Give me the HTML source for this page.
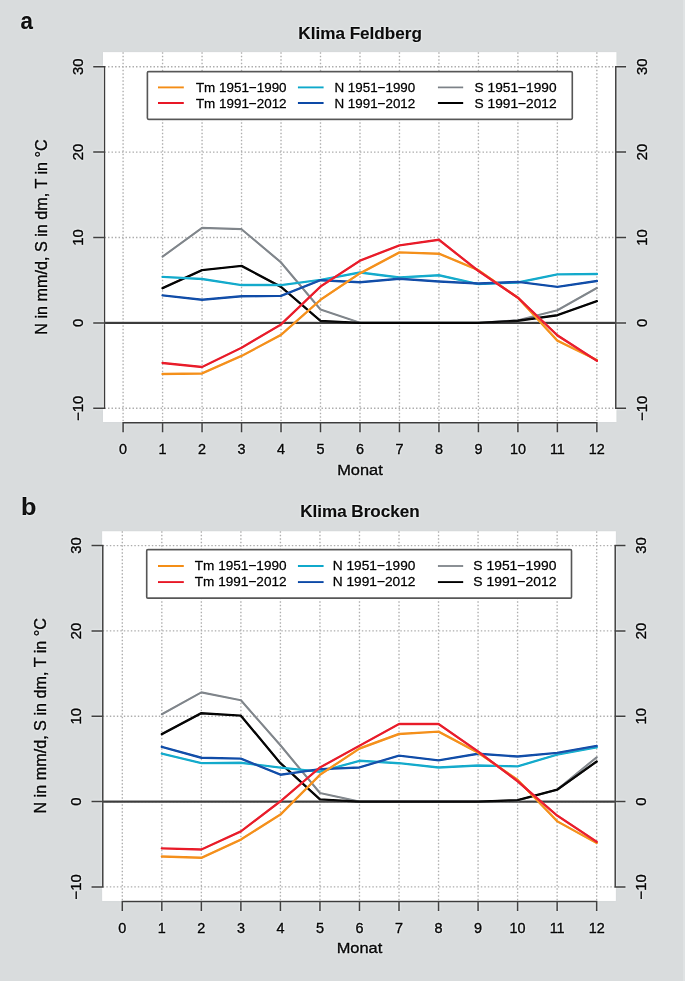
<!DOCTYPE html>
<html><head><meta charset="utf-8"><style>
html,body{margin:0;padding:0;background:#d9dcdd;}
svg{display:block;font-family:"Liberation Sans",sans-serif;}
text{stroke:#1a1a1a;stroke-width:0.35px;} .lg{stroke-width:0.3px;} .nb{stroke-width:0.1px;}
</style></head><body>
<svg width="685" height="981" viewBox="0 0 685 981">
<defs><filter id="bl" filterUnits="userSpaceOnUse" x="-20" y="-20" width="725" height="1021" color-interpolation-filters="sRGB"><feGaussianBlur in="SourceGraphic" stdDeviation="0.45" result="b1"/><feGaussianBlur in="b1" stdDeviation="1.3" result="b2"/><feComposite in="b1" in2="b2" operator="arithmetic" k1="0" k2="1.22" k3="-0.22" k4="0"/></filter></defs>
<g filter="url(#bl)">
<rect x="-20" y="-20" width="725" height="1021" fill="#d9dcdd"/>
<rect x="683" y="-20" width="30" height="1021" fill="#e0e3e4"/>
<text x="20.6" y="28.6" font-size="24" font-weight="bold" fill="#1a1a1a" class="nb" textLength="12.4" lengthAdjust="spacingAndGlyphs">a</text>
<text x="360.1" y="39" text-anchor="middle" font-size="15.6" font-weight="bold" class="nb" fill="#1a1a1a" textLength="123.5" lengthAdjust="spacingAndGlyphs">Klima Feldberg</text>
<rect x="103" y="52.2" width="513.4" height="369.8" fill="#fff"/>
<path d="M123.1 52.2V422M162.58 52.2V422M202.06 52.2V422M241.54 52.2V422M281.02 52.2V422M320.5 52.2V422M359.98 52.2V422M399.46 52.2V422M438.94 52.2V422M478.42 52.2V422M517.9 52.2V422M557.38 52.2V422M596.86 52.2V422M104.5 408.3H615.8M104.5 322.9H615.8M104.5 237.5H615.8M104.5 152.1H615.8M104.5 66.7H615.8" stroke="#b9b9b9" stroke-width="1.4" stroke-dasharray="1.5 2" fill="none"/>
<path d="M104.5 322.9H615.8" stroke="#4a4a4a" stroke-width="2.4" fill="none"/>
<polyline points="162.58,256.54 202.06,227.85 241.54,229.22 281.02,262.44 320.5,309.58 359.98,322.73 399.46,322.9 438.94,322.9 478.42,322.9 517.9,320.34 557.38,310.26 596.86,288.06" stroke="#898e93" stroke-width="2.2" fill="none" stroke-linejoin="round" stroke-linecap="round"/>
<polyline points="162.58,288.14 202.06,270.12 241.54,265.85 281.02,286.86 320.5,320.94 359.98,322.9 399.46,322.9 438.94,322.9 478.42,322.9 517.9,320.76 557.38,315.21 596.86,301.21" stroke="#151515" stroke-width="2.4" fill="none" stroke-linejoin="round" stroke-linecap="round"/>
<polyline points="162.58,276.87 202.06,279 241.54,285.07 281.02,285.07 320.5,279.86 359.98,272.51 399.46,277.55 438.94,275.25 478.42,284.13 517.9,282.51 557.38,274.39 596.86,274.05" stroke="#24b0cf" stroke-width="2.4" fill="none" stroke-linejoin="round" stroke-linecap="round"/>
<polyline points="162.58,295.4 202.06,299.76 241.54,296.26 281.02,295.91 320.5,280.2 359.98,282.25 399.46,278.75 438.94,281.57 478.42,283.53 517.9,281.91 557.38,286.86 596.86,281.05" stroke="#2159ae" stroke-width="2.4" fill="none" stroke-linejoin="round" stroke-linecap="round"/>
<polyline points="162.58,373.97 202.06,373.46 241.54,355.95 281.02,334.86 320.5,299.84 359.98,273.37 399.46,252.36 438.94,253.73 478.42,270.12 517.9,297.71 557.38,340.58 596.86,359.96" stroke="#f5972a" stroke-width="2.4" fill="none" stroke-linejoin="round" stroke-linecap="round"/>
<polyline points="162.58,362.95 202.06,366.97 241.54,347.75 281.02,324.44 320.5,286.61 359.98,260.73 399.46,245.36 438.94,239.72 478.42,271.06 517.9,297.71 557.38,335.37 596.86,360.82" stroke="#ea2b38" stroke-width="2.4" fill="none" stroke-linejoin="round" stroke-linecap="round"/>
<rect x="147.4" y="71.6" width="424.9" height="47.7" fill="#fff" stroke="#666" stroke-width="1.7" rx="1.2"/>
<path d="M158 87.4H183.8" stroke="#f5972a" stroke-width="1.95" fill="none"/>
<text x="195.9" y="91.6" font-size="13.2" class="lg" fill="#1a1a1a" textLength="90.7" lengthAdjust="spacingAndGlyphs">Tm 1951−1990</text>
<path d="M158 103H183.8" stroke="#ea2b38" stroke-width="1.95" fill="none"/>
<text x="195.9" y="107.5" font-size="13.2" class="lg" fill="#1a1a1a" textLength="90.7" lengthAdjust="spacingAndGlyphs">Tm 1991−2012</text>
<path d="M297.9 87.4H323.6" stroke="#24b0cf" stroke-width="1.95" fill="none"/>
<text x="334.4" y="91.6" font-size="13.2" class="lg" fill="#1a1a1a" textLength="80.9" lengthAdjust="spacingAndGlyphs">N 1951−1990</text>
<path d="M297.9 103H323.6" stroke="#2159ae" stroke-width="1.95" fill="none"/>
<text x="334.4" y="107.5" font-size="13.2" class="lg" fill="#1a1a1a" textLength="80.9" lengthAdjust="spacingAndGlyphs">N 1991−2012</text>
<path d="M437.9 87.4H463.2" stroke="#898e93" stroke-width="1.8" fill="none"/>
<text x="474.6" y="91.6" font-size="13.2" class="lg" fill="#1a1a1a" textLength="82" lengthAdjust="spacingAndGlyphs">S 1951−1990</text>
<path d="M437.9 103H463.2" stroke="#151515" stroke-width="1.95" fill="none"/>
<text x="474.6" y="107.5" font-size="13.2" class="lg" fill="#1a1a1a" textLength="82" lengthAdjust="spacingAndGlyphs">S 1991−2012</text>
<path d="M104.5 66.7V408.3M94 408.3H104.5M94 322.9H104.5M94 237.5H104.5M94 152.1H104.5M94 66.7H104.5M615.8 66.7V408.3M615.8 408.3H625.3M615.8 322.9H625.3M615.8 237.5H625.3M615.8 152.1H625.3M615.8 66.7H625.3M123.1 422.7H596.86M123.1 422.7V431.5M162.58 422.7V431.5M202.06 422.7V431.5M241.54 422.7V431.5M281.02 422.7V431.5M320.5 422.7V431.5M359.98 422.7V431.5M399.46 422.7V431.5M438.94 422.7V431.5M478.42 422.7V431.5M517.9 422.7V431.5M557.38 422.7V431.5M596.86 422.7V431.5" stroke="#505050" stroke-width="1.5" fill="none" stroke-linecap="square"/>
<text transform="translate(83 408.3) rotate(-90)" text-anchor="middle" font-size="14.8" fill="#1a1a1a">&#8722;10</text>
<text transform="translate(647 408.3) rotate(-90)" text-anchor="middle" font-size="14.8" fill="#1a1a1a">&#8722;10</text>
<text transform="translate(83 322.9) rotate(-90)" text-anchor="middle" font-size="14.8" fill="#1a1a1a">0</text>
<text transform="translate(647 322.9) rotate(-90)" text-anchor="middle" font-size="14.8" fill="#1a1a1a">0</text>
<text transform="translate(83 237.5) rotate(-90)" text-anchor="middle" font-size="14.8" fill="#1a1a1a">10</text>
<text transform="translate(647 237.5) rotate(-90)" text-anchor="middle" font-size="14.8" fill="#1a1a1a">10</text>
<text transform="translate(83 152.1) rotate(-90)" text-anchor="middle" font-size="14.8" fill="#1a1a1a">20</text>
<text transform="translate(647 152.1) rotate(-90)" text-anchor="middle" font-size="14.8" fill="#1a1a1a">20</text>
<text transform="translate(83 66.7) rotate(-90)" text-anchor="middle" font-size="14.8" fill="#1a1a1a">30</text>
<text transform="translate(647 66.7) rotate(-90)" text-anchor="middle" font-size="14.8" fill="#1a1a1a">30</text>
<text x="123.1" y="454.2" text-anchor="middle" font-size="14.4" fill="#1a1a1a">0</text>
<text x="162.58" y="454.2" text-anchor="middle" font-size="14.4" fill="#1a1a1a">1</text>
<text x="202.06" y="454.2" text-anchor="middle" font-size="14.4" fill="#1a1a1a">2</text>
<text x="241.54" y="454.2" text-anchor="middle" font-size="14.4" fill="#1a1a1a">3</text>
<text x="281.02" y="454.2" text-anchor="middle" font-size="14.4" fill="#1a1a1a">4</text>
<text x="320.5" y="454.2" text-anchor="middle" font-size="14.4" fill="#1a1a1a">5</text>
<text x="359.98" y="454.2" text-anchor="middle" font-size="14.4" fill="#1a1a1a">6</text>
<text x="399.46" y="454.2" text-anchor="middle" font-size="14.4" fill="#1a1a1a">7</text>
<text x="438.94" y="454.2" text-anchor="middle" font-size="14.4" fill="#1a1a1a">8</text>
<text x="478.42" y="454.2" text-anchor="middle" font-size="14.4" fill="#1a1a1a">9</text>
<text x="517.9" y="454.2" text-anchor="middle" font-size="14.4" fill="#1a1a1a">10</text>
<text x="557.38" y="454.2" text-anchor="middle" font-size="14.4" fill="#1a1a1a">11</text>
<text x="596.86" y="454.2" text-anchor="middle" font-size="14.4" fill="#1a1a1a">12</text>
<text x="359.98" y="474.6" text-anchor="middle" font-size="14.9" fill="#1a1a1a" textLength="45.5" lengthAdjust="spacingAndGlyphs">Monat</text>
<text transform="translate(47.4 237) rotate(-90)" text-anchor="middle" font-size="16" fill="#1a1a1a" textLength="195.5" lengthAdjust="spacingAndGlyphs">N in mm/d, S in dm, T in °C</text>
<text x="20.9" y="515.3" font-size="24" font-weight="bold" fill="#1a1a1a" class="nb" textLength="15.4" lengthAdjust="spacingAndGlyphs">b</text>
<text x="359.9" y="517" text-anchor="middle" font-size="15.6" font-weight="bold" class="nb" fill="#1a1a1a" textLength="119.3" lengthAdjust="spacingAndGlyphs">Klima Brocken</text>
<rect x="102.2" y="531.3" width="513.6" height="369.6" fill="#fff"/>
<path d="M122.3 531.3V900.9M161.83 531.3V900.9M201.36 531.3V900.9M240.89 531.3V900.9M280.42 531.3V900.9M319.95 531.3V900.9M359.48 531.3V900.9M399.01 531.3V900.9M438.54 531.3V900.9M478.07 531.3V900.9M517.6 531.3V900.9M557.13 531.3V900.9M596.66 531.3V900.9M102.8 886.9H615.2M102.8 801.58H615.2M102.8 716.25H615.2M102.8 630.92H615.2M102.8 545.6H615.2" stroke="#b9b9b9" stroke-width="1.4" stroke-dasharray="1.5 2" fill="none"/>
<path d="M102.8 801.58H615.2" stroke="#4a4a4a" stroke-width="2.4" fill="none"/>
<polyline points="161.83,714.2 201.36,692.36 240.89,700.29 280.42,745.26 319.95,793.04 359.48,801.58 399.01,801.58 438.54,801.58 478.07,801.58 517.6,800.55 557.13,789.71 596.66,757.29" stroke="#898e93" stroke-width="2.2" fill="none" stroke-linejoin="round" stroke-linecap="round"/>
<polyline points="161.83,734.17 201.36,713.18 240.89,715.65 280.42,763.18 319.95,799.36 359.48,801.58 399.01,801.58 438.54,801.58 478.07,801.58 517.6,800.21 557.13,789.71 596.66,761.56" stroke="#151515" stroke-width="2.4" fill="none" stroke-linejoin="round" stroke-linecap="round"/>
<polyline points="161.83,753.62 201.36,763.09 240.89,762.75 280.42,767.62 319.95,771.71 359.48,760.79 399.01,763.18 438.54,767.45 478.07,765.48 517.6,766.42 557.13,754.65 596.66,747.31" stroke="#24b0cf" stroke-width="2.4" fill="none" stroke-linejoin="round" stroke-linecap="round"/>
<polyline points="161.83,746.8 201.36,757.72 240.89,758.66 280.42,774.7 319.95,769.15 359.48,767.45 399.01,755.67 438.54,760.36 478.07,753.79 517.6,756.52 557.13,752.85 596.66,745.86" stroke="#2159ae" stroke-width="2.4" fill="none" stroke-linejoin="round" stroke-linecap="round"/>
<polyline points="161.83,856.52 201.36,857.8 240.89,839.54 280.42,814.54 319.95,774.87 359.48,748.5 399.01,734 438.54,731.61 478.07,752.68 517.6,779.82 557.13,821.2 596.66,843.04" stroke="#f5972a" stroke-width="2.4" fill="none" stroke-linejoin="round" stroke-linecap="round"/>
<polyline points="161.83,848.42 201.36,849.53 240.89,831.35 280.42,801.32 319.95,767.45 359.48,745.69 399.01,723.93 438.54,723.93 478.07,751.49 517.6,781.27 557.13,815.57 596.66,841.85" stroke="#ea2b38" stroke-width="2.4" fill="none" stroke-linejoin="round" stroke-linecap="round"/>
<rect x="146.7" y="549.6" width="424.8" height="48.5" fill="#fff" stroke="#666" stroke-width="1.7" rx="1.2"/>
<path d="M158 566H183.8" stroke="#f5972a" stroke-width="1.95" fill="none"/>
<text x="194.8" y="570.2" font-size="13.2" class="lg" fill="#1a1a1a" textLength="91.8" lengthAdjust="spacingAndGlyphs">Tm 1951−1990</text>
<path d="M158 582.1H183.8" stroke="#ea2b38" stroke-width="1.95" fill="none"/>
<text x="194.8" y="586.3" font-size="13.2" class="lg" fill="#1a1a1a" textLength="91.8" lengthAdjust="spacingAndGlyphs">Tm 1991−2012</text>
<path d="M297.9 566H323.6" stroke="#24b0cf" stroke-width="1.95" fill="none"/>
<text x="332.8" y="570.2" font-size="13.2" class="lg" fill="#1a1a1a" textLength="82.6" lengthAdjust="spacingAndGlyphs">N 1951−1990</text>
<path d="M297.9 582.1H323.6" stroke="#2159ae" stroke-width="1.95" fill="none"/>
<text x="332.8" y="586.3" font-size="13.2" class="lg" fill="#1a1a1a" textLength="82.6" lengthAdjust="spacingAndGlyphs">N 1991−2012</text>
<path d="M437.9 566H463.2" stroke="#898e93" stroke-width="1.8" fill="none"/>
<text x="473.3" y="570.2" font-size="13.2" class="lg" fill="#1a1a1a" textLength="83.1" lengthAdjust="spacingAndGlyphs">S 1951−1990</text>
<path d="M437.9 582.1H463.2" stroke="#151515" stroke-width="1.95" fill="none"/>
<text x="473.3" y="586.3" font-size="13.2" class="lg" fill="#1a1a1a" textLength="83.1" lengthAdjust="spacingAndGlyphs">S 1991−2012</text>
<path d="M102.8 545.6V886.9M92.3 886.9H102.8M92.3 801.58H102.8M92.3 716.25H102.8M92.3 630.92H102.8M92.3 545.6H102.8M615.2 545.6V886.9M615.2 886.9H624.7M615.2 801.58H624.7M615.2 716.25H624.7M615.2 630.92H624.7M615.2 545.6H624.7M122.3 901.5H596.66M122.3 901.5V910.3M161.83 901.5V910.3M201.36 901.5V910.3M240.89 901.5V910.3M280.42 901.5V910.3M319.95 901.5V910.3M359.48 901.5V910.3M399.01 901.5V910.3M438.54 901.5V910.3M478.07 901.5V910.3M517.6 901.5V910.3M557.13 901.5V910.3M596.66 901.5V910.3" stroke="#505050" stroke-width="1.5" fill="none" stroke-linecap="square"/>
<text transform="translate(81.3 886.9) rotate(-90)" text-anchor="middle" font-size="14.8" fill="#1a1a1a">&#8722;10</text>
<text transform="translate(646.4 886.9) rotate(-90)" text-anchor="middle" font-size="14.8" fill="#1a1a1a">&#8722;10</text>
<text transform="translate(81.3 801.58) rotate(-90)" text-anchor="middle" font-size="14.8" fill="#1a1a1a">0</text>
<text transform="translate(646.4 801.58) rotate(-90)" text-anchor="middle" font-size="14.8" fill="#1a1a1a">0</text>
<text transform="translate(81.3 716.25) rotate(-90)" text-anchor="middle" font-size="14.8" fill="#1a1a1a">10</text>
<text transform="translate(646.4 716.25) rotate(-90)" text-anchor="middle" font-size="14.8" fill="#1a1a1a">10</text>
<text transform="translate(81.3 630.92) rotate(-90)" text-anchor="middle" font-size="14.8" fill="#1a1a1a">20</text>
<text transform="translate(646.4 630.92) rotate(-90)" text-anchor="middle" font-size="14.8" fill="#1a1a1a">20</text>
<text transform="translate(81.3 545.6) rotate(-90)" text-anchor="middle" font-size="14.8" fill="#1a1a1a">30</text>
<text transform="translate(646.4 545.6) rotate(-90)" text-anchor="middle" font-size="14.8" fill="#1a1a1a">30</text>
<text x="122.3" y="933" text-anchor="middle" font-size="14.4" fill="#1a1a1a">0</text>
<text x="161.83" y="933" text-anchor="middle" font-size="14.4" fill="#1a1a1a">1</text>
<text x="201.36" y="933" text-anchor="middle" font-size="14.4" fill="#1a1a1a">2</text>
<text x="240.89" y="933" text-anchor="middle" font-size="14.4" fill="#1a1a1a">3</text>
<text x="280.42" y="933" text-anchor="middle" font-size="14.4" fill="#1a1a1a">4</text>
<text x="319.95" y="933" text-anchor="middle" font-size="14.4" fill="#1a1a1a">5</text>
<text x="359.48" y="933" text-anchor="middle" font-size="14.4" fill="#1a1a1a">6</text>
<text x="399.01" y="933" text-anchor="middle" font-size="14.4" fill="#1a1a1a">7</text>
<text x="438.54" y="933" text-anchor="middle" font-size="14.4" fill="#1a1a1a">8</text>
<text x="478.07" y="933" text-anchor="middle" font-size="14.4" fill="#1a1a1a">9</text>
<text x="517.6" y="933" text-anchor="middle" font-size="14.4" fill="#1a1a1a">10</text>
<text x="557.13" y="933" text-anchor="middle" font-size="14.4" fill="#1a1a1a">11</text>
<text x="596.66" y="933" text-anchor="middle" font-size="14.4" fill="#1a1a1a">12</text>
<text x="359.48" y="953.1" text-anchor="middle" font-size="14.9" fill="#1a1a1a" textLength="45.5" lengthAdjust="spacingAndGlyphs">Monat</text>
<text transform="translate(46 715.8) rotate(-90)" text-anchor="middle" font-size="16" fill="#1a1a1a" textLength="195.5" lengthAdjust="spacingAndGlyphs">N in mm/d, S in dm, T in °C</text>
</g>
</svg>
</body></html>
